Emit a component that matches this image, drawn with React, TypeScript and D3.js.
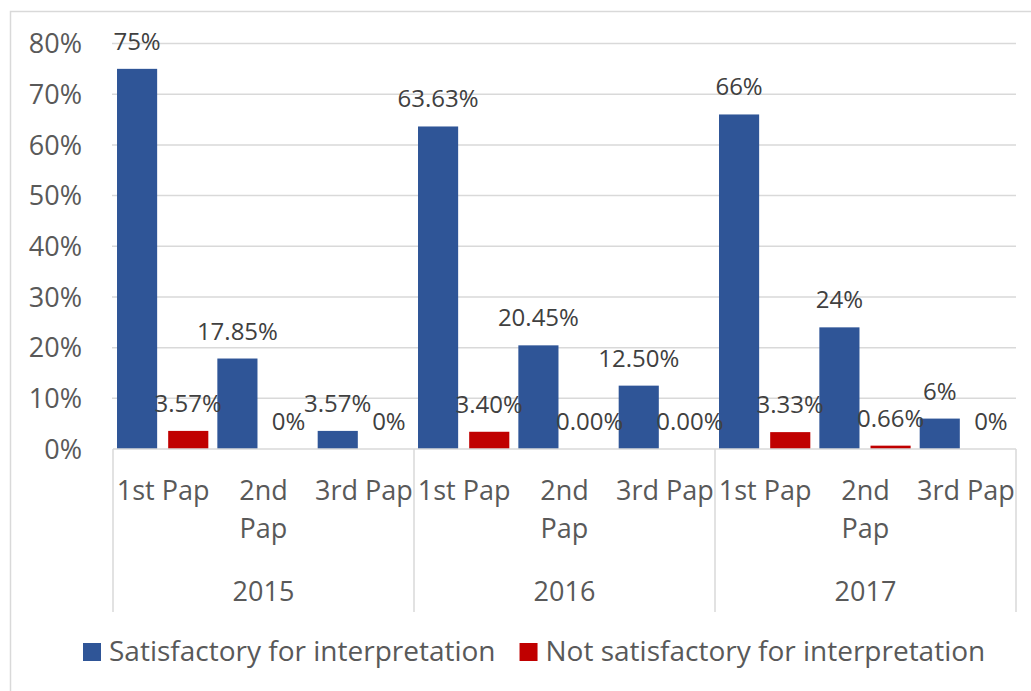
import * as d3 from 'd3';
import { useEffect, useRef } from 'react';

const years = ['2015', '2016', '2017'];
const papers = [['1st Pap'], ['2nd', 'Pap'], ['3rd Pap']];
const seriesNames = ['Satisfactory for interpretation', 'Not satisfactory for interpretation'];
const seriesColors = ['#2F5597', '#C00000'];

// values per category, in year order (2015, 2016, 2017) x paper
const satisfactory = [75, 17.85, 3.57, 63.63, 20.45, 12.5, 66, 24, 6];
const notSatisfactory = [3.57, 0, 0, 3.4, 0, 0, 3.33, 0.66, 0];
const satisfactoryLabels = ['75%', '17.85%', '3.57%', '63.63%', '20.45%', '12.50%', '66%', '24%', '6%'];
const notSatisfactoryLabels = ['3.57%', '0%', '0%', '3.40%', '0.00%', '0.00%', '3.33%', '0.66%', '0%'];
const yTicks = [0, 10, 20, 30, 40, 50, 60, 70, 80];

const W = 1031;
const H = 691;
const FONT = '"Open Sans", sans-serif';

export default function App() {
  const svgRef = useRef<SVGSVGElement>(null);

  useEffect(() => {
    const svg = d3.select(svgRef.current);
    svg.selectAll('*').remove();

    const left = 113;
    const right = 1016;
    const base = 449;
    const top = 43.5;

    const cats = d3.range(years.length * papers.length).map(String);
    const x = d3.scaleBand<string>().domain(cats).range([left, right]).padding(0);
    const y = d3.scaleLinear().domain([0, 80]).range([base, top]);
    const cw = x.bandwidth();
    const barW = cw * 0.4;

    // chart border (runs off the right and bottom edge)
    svg.append('rect')
      .attr('x', 10.5).attr('y', 11.5)
      .attr('width', W + 10).attr('height', H + 10)
      .attr('fill', 'none').attr('stroke', '#d9d9d9').attr('stroke-width', 1.5);

    // gridlines
    svg.append('g').selectAll('line')
      .data(yTicks.slice(1))
      .join('line')
      .attr('x1', left - 1).attr('x2', right)
      .attr('y1', d => y(d)).attr('y2', d => y(d))
      .attr('stroke', '#d9d9d9').attr('stroke-width', 1.5);

    // y tick labels
    svg.append('g').selectAll('text')
      .data(yTicks)
      .join('text')
      .attr('x', 82).attr('y', d => y(d))
      .attr('dy', '0.36em')
      .attr('text-anchor', 'end')
      .attr('font-family', FONT).attr('font-size', 27)
      .attr('fill', '#595959')
      .text(d => `${d}%`);

    // bars
    const series = [satisfactory, notSatisfactory];
    const labels = [satisfactoryLabels, notSatisfactoryLabels];
    const offsets = [cw * 0.04, cw * 0.55];
    series.forEach((vals, si) => {
      const g = svg.append('g');
      g.selectAll('rect')
        .data(vals)
        .join('rect')
        .attr('x', (d, i) => (x(String(i)) as number) + offsets[si])
        .attr('y', d => y(d))
        .attr('width', barW)
        .attr('height', d => base - y(d))
        .attr('fill', seriesColors[si]);
    });

    // data labels
    series.forEach((vals, si) => {
      svg.append('g').selectAll('text')
        .data(vals)
        .join('text')
        .attr('x', (d, i) => (x(String(i)) as number) + offsets[si] + barW / 2)
        .attr('y', d => y(d) - 19)
        .attr('text-anchor', 'middle')
        .attr('font-family', FONT).attr('font-size', 24)
        .attr('fill', '#404040')
        .text((d, i) => labels[si][i]);
    });

    // category axis baseline
    svg.append('line')
      .attr('x1', left).attr('x2', right)
      .attr('y1', base).attr('y2', base)
      .attr('stroke', '#d9d9d9').attr('stroke-width', 1.5);

    // group separators
    const groupW = cw * papers.length;
    svg.append('g').selectAll('line')
      .data(d3.range(years.length + 1))
      .join('line')
      .attr('x1', d => left + d * groupW).attr('x2', d => left + d * groupW)
      .attr('y1', base).attr('y2', 612)
      .attr('stroke', '#d9d9d9').attr('stroke-width', 1.5);

    // paper labels
    cats.forEach((c, i) => {
      const lines = papers[i % papers.length];
      const t = svg.append('text')
        .attr('text-anchor', 'middle')
        .attr('font-family', FONT).attr('font-size', 27)
        .attr('fill', '#595959');
      lines.forEach((ln, li) => {
        t.append('tspan')
          .attr('x', (x(c) as number) + cw / 2)
          .attr('y', 500 + li * 38)
          .text(ln);
      });
    });

    // year labels
    svg.append('g').selectAll('text')
      .data(years)
      .join('text')
      .attr('x', (d, i) => left + (i + 0.5) * groupW)
      .attr('y', 601)
      .attr('text-anchor', 'middle')
      .attr('font-family', FONT).attr('font-size', 27)
      .attr('fill', '#595959')
      .text(d => d);

    // legend
    let lx = 83;
    seriesNames.forEach((name, i) => {
      svg.append('rect')
        .attr('x', lx).attr('y', 643)
        .attr('width', 18).attr('height', 18)
        .attr('fill', seriesColors[i]);
      const t = svg.append('text')
        .attr('x', lx + 26).attr('y', 661)
        .attr('font-family', FONT).attr('font-size', 28)
        .attr('fill', '#595959')
        .text(name);
      const len = (t.node() as SVGTextElement).getComputedTextLength();
      lx += 26 + len + 24;
    });
  }, []);

  return (
    <svg
      ref={svgRef}
      width={W}
      height={H}
      style={{ position: 'absolute', left: 0, top: 0, background: '#fff' }}
    />
  );
}
